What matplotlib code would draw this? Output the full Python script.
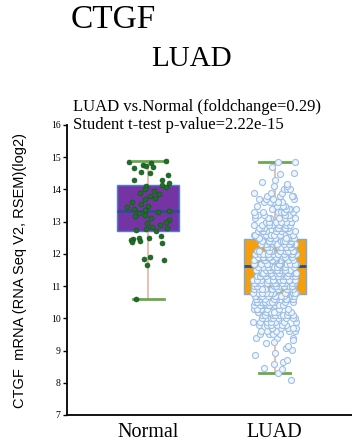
import numpy as np
import matplotlib
matplotlib.use("Agg")
import matplotlib.pyplot as plt

# ---- data ----
groups = ["Normal", "LUAD"]

# box statistics (log2 RSEM)
box_q1 = [12.70, 10.77]
box_med = [13.32, 11.61]
box_q3 = [14.13, 12.45]
whisk_lo = [10.61, 8.31]
whisk_hi = [14.88, 14.85]

normal_vals = [
    14.88, 14.86, 14.82, 14.75, 14.72, 14.70, 14.68, 14.55, 14.50, 14.45,
    14.30, 14.28, 14.20, 14.15, 14.10, 14.08,
    14.02, 13.95, 13.90, 13.85, 13.80, 13.75, 13.70, 13.62, 13.55, 13.50,
    13.45, 13.40, 13.35, 13.32, 13.30, 13.28, 13.22, 13.18, 13.10, 13.05,
    13.00, 12.95, 12.90, 12.85, 12.80, 12.78, 12.74, 12.72,
    12.55, 12.50, 12.48, 12.45, 12.42, 12.40, 12.36, 12.33,
    11.90, 11.85, 11.80, 11.65, 10.61,
]

# LUAD dense core as a histogram (0.1 steps) plus the sparse tails
luad_levels = [
    9.4, 9.5, 9.6, 9.7, 9.8, 9.9, 10.0, 10.1, 10.2, 10.3, 10.4, 10.5,
    10.6, 10.7, 10.8, 10.9, 11.0, 11.1, 11.2, 11.3, 11.4, 11.5, 11.6, 11.7,
    11.8, 11.9, 12.0, 12.1, 12.2, 12.3, 12.4, 12.5, 12.6, 12.7, 12.8, 12.9,
    13.0, 13.1, 13.2, 13.3, 13.4, 13.5, 13.6, 13.7, 13.8, 13.9, 14.0, 14.1,
]
luad_counts = [
    3, 4, 5, 6, 6, 7, 8, 8, 9, 10, 11, 12,
    12, 13, 13, 14, 14, 15, 15, 15, 16, 16, 16, 15,
    15, 15, 14, 14, 13, 13, 12, 12, 11, 10, 10, 9,
    9, 8, 7, 7, 6, 5, 5, 4, 4, 3, 3, 2,
]
luad_tails = [
    8.09, 8.31, 8.42, 8.47, 8.58, 8.66, 8.72, 8.85, 8.93, 9.02, 9.08,
    9.15, 9.22, 9.28, 9.33,
    14.18, 14.22, 14.30, 14.48, 14.52, 14.70, 14.84, 14.86,
]

title_gene = "CTGF"
title_cancer = "LUAD"
note1 = "LUAD vs.Normal (foldchange=0.29)"
note2 = "Student t-test p-value=2.22e-15"
ylabel = "CTGF  mRNA (RNA Seq V2, RSEM)(log2)"

serif = ["Liberation Serif", "DejaVu Serif"]


def spread(n, half):
    # deterministic scatter of x offsets (hash of the index), no RNG
    k = np.arange(n) + 1.0
    u = (np.sin(k * 12.9898) * 43758.5453) % 1.0
    return (u - 0.5) * 2 * half


fig = plt.figure(figsize=(3.52, 4.43), dpi=100)
ax = fig.add_axes([67 / 352, 28 / 443, 1 - 67 / 352, 290 / 443])

stats = []
for i, g in enumerate(groups):
    stats.append(dict(label=g, q1=box_q1[i], med=box_med[i], q3=box_q3[i],
                      whislo=whisk_lo[i], whishi=whisk_hi[i], fliers=[]))

face = ["#7434a4", "#f59f0c"]
edge = ["#4f7fd0", "#7fa8d8"]
for i in range(2):
    ax.bxp([stats[i]], positions=[i + 1], widths=0.49, patch_artist=True,
           showfliers=False,
           boxprops=dict(facecolor=face[i], edgecolor=edge[i], linewidth=1.0),
           medianprops=dict(color="#2d4f86", linewidth=2.0),
           whiskerprops=dict(color="#e8b0a4", linewidth=1.2),
           capprops=dict(color="#6aa84f", linewidth=2.0),
           capwidths=0.245, zorder=2)

# Normal points
nv = np.array(normal_vals)
ax.scatter(1 + spread(len(nv), 0.17), nv, s=13, color="#1d6e26",
           edgecolors="#145219", linewidths=0.4, zorder=3)

# LUAD points
lv = np.concatenate([np.repeat(luad_levels, luad_counts), luad_tails])
ax.scatter(2 + spread(len(lv), 0.17), lv, s=19, facecolors="#f2f6fc",
           edgecolors="#9cc0e6", linewidths=0.8, zorder=3)

ax.set_xlim(0.36, 2.61)
ax.set_ylim(7, 16)
ax.set_yticks(range(7, 17))
ax.set_xticks([1, 2])
ax.set_xticklabels(groups, fontfamily=serif, fontsize=14.5)
ax.tick_params(axis="x", length=0, pad=6)
ax.tick_params(axis="y", direction="out", length=3, width=1, pad=1.5,
               labelsize=7)
for lab in ax.get_yticklabels():
    lab.set_fontfamily(serif)
for s in ["top", "right"]:
    ax.spines[s].set_visible(False)
for s in ["left", "bottom"]:
    ax.spines[s].set_linewidth(1.3)

fig.text(113 / 352, 1 - 20 / 443, title_gene, ha="center", va="center",
         fontfamily=serif, fontsize=24)
fig.text(191 / 352, 1 - 59 / 443, title_cancer, ha="center", va="center",
         fontfamily=serif, fontsize=21)
fig.text(73 / 352, 1 - 107 / 443, note1, ha="left", va="center",
         fontfamily=serif, fontsize=12)
fig.text(73 / 352, 1 - 125 / 443, note2, ha="left", va="center",
         fontfamily=serif, fontsize=12)
fig.text(20 / 352, 1 - 270 / 443, ylabel, ha="center", va="center",
         rotation=90, fontfamily=["Liberation Sans", "DejaVu Sans"],
         fontsize=10.5)

fig.savefig("out.png", dpi=100)
